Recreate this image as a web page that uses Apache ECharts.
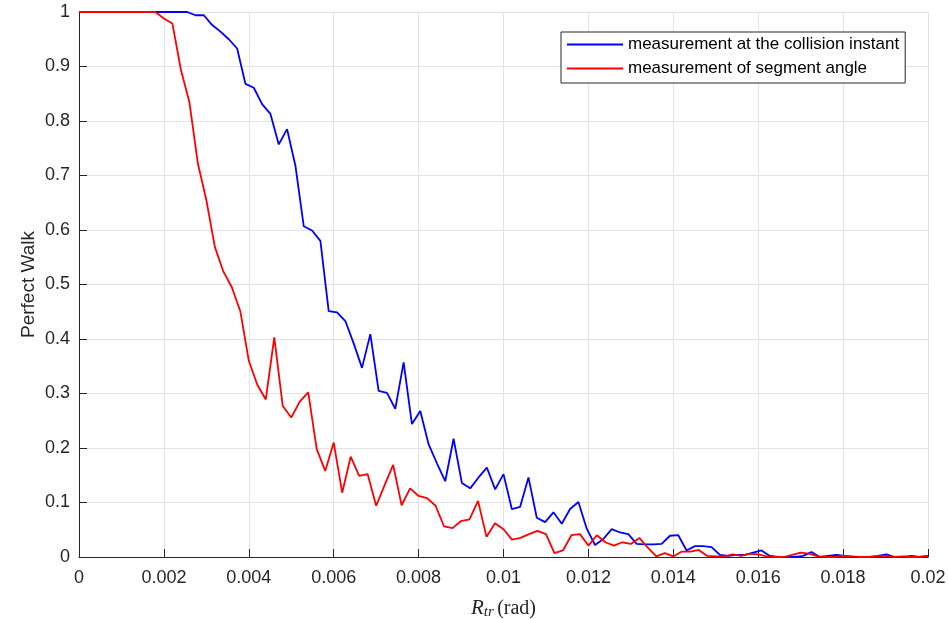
<!DOCTYPE html>
<html>
<head>
<meta charset="utf-8">
<script src="https://cdn.jsdelivr.net/npm/echarts@6/dist/echarts.min.js"></script>
<style>
html,body{margin:0;padding:0;background:#fff;}
#chart{width:948px;height:619px;}
</style>
</head>
<body>
<div id="chart"></div>
<script>
const seriesNames = ['measurement at the collision instant', 'measurement of segment angle'];
const xTickLabels = ['0','0.002','0.004','0.006','0.008','0.01','0.012','0.014','0.016','0.018','0.02'];
const yTickLabels = ['0','0.1','0.2','0.3','0.4','0.5','0.6','0.7','0.8','0.9','1'];

// blue: 103 samples over [0, 0.02]
const blueY = [1,1,1,1,1,1,1,1,1,1,1,1,1,
  1,0.994,0.994,0.976,0.964,0.950,0.933,0.868,0.861,0.831,0.813,0.757,0.785,0.718,0.607,0.599,0.580,
  0.451,0.449,0.433,0.392,0.347,0.409,0.305,0.301,0.272,0.357,0.244,0.268,0.207,0.172,0.139,0.217,
  0.136,0.126,0.146,0.164,0.124,0.152,0.088,0.092,0.146,0.072,0.064,0.082,0.061,0.088,0.101,0.052,
  0.022,0.033,0.051,0.045,0.042,0.024,0.023,0.023,0.024,0.039,0.040,0.012,0.020,0.020,0.018,0.004,
  0.002,0.004,0.004,0.008,0.012,0.002,0,0,0,0.002,0.009,0,0.002,0.004,0.002,0,0,0,0.002,0.005,0,0,0.002,0,0.002];
// red: 101 samples over [0, 0.02]
const redY = [1,1,1,1,1,1,1,1,1,1,
  0.988,0.979,0.894,0.835,0.722,0.655,0.569,0.524,0.495,0.451,0.360,0.316,0.289,0.403,0.277,0.256,
  0.285,0.302,0.198,0.158,0.210,0.118,0.184,0.149,0.152,0.094,0.132,0.169,0.095,0.126,0.112,0.108,
  0.094,0.056,0.053,0.066,0.069,0.103,0.037,0.062,0.051,0.032,0.035,0.042,0.048,0.042,0.007,0.012,
  0.040,0.042,0.021,0.040,0.027,0.021,0.027,0.024,0.035,0.017,0.001,0.007,0.001,0.010,0.010,0.013,
  0.002,0.001,0.001,0.005,0.002,0.006,0.005,0.001,0,0,0.004,0.008,0.006,0.001,0,0,0.002,0.001,0,0,
  0.001,0.002,0,0.001,0,0,0.002];

const xMax = 0.02;
const blueX = blueY.map((_, k) => k * xMax / (blueY.length - 1));
const redX = redY.map((_, i) => i * xMax / (redY.length - 1));

const chart = echarts.init(document.getElementById('chart'), null, {renderer: 'canvas'});
const axisColor = '#262626';
const gridColor = '#e3e3e3';
const sans = '"Liberation Sans", Arial, Helvetica, sans-serif';
const serif = '"Liberation Serif", "DejaVu Serif", serif';

chart.setOption({
  animation: false,
  backgroundColor: '#ffffff',
  grid: {left: 79, right: 20, top: 12, bottom: 62, containLabel: false, outerBoundsMode: 'none'},
  legend: {
    orient: 'vertical',
    left: 561, top: 32,
    padding: [4, 6, 6, 6],
    itemGap: 7,
    itemWidth: 56,
    itemHeight: 2,
    icon: 'rect',
    backgroundColor: '#ffffff',
    borderColor: '#262626',
    borderWidth: 1,
    borderRadius: 0,
    textStyle: {fontFamily: sans, fontSize: 17, color: '#000', lineHeight: 17},
    data: seriesNames
  },
  xAxis: {
    type: 'value', min: 0, max: xMax, interval: 0.002,
    name: '{i|R}{s|tr} {u|(rad)}',
    nameLocation: 'middle', nameGap: 40, nameMoveOverlap: false,
    nameTextStyle: {
      rich: {
        i: {fontFamily: serif, fontStyle: 'italic', fontSize: 21, color: '#262626'},
        s: {fontFamily: serif, fontStyle: 'italic', fontSize: 15, color: '#262626', verticalAlign: 'bottom', padding: [8, 0, 0, 0]},
        u: {fontFamily: serif, fontSize: 20, color: '#262626'}
      }
    },
    axisLine: {show: true, onZero: false, lineStyle: {color: axisColor, width: 1}},
    axisTick: {show: true, inside: true, length: 8, lineStyle: {color: axisColor}},
    axisLabel: {
      fontFamily: sans, fontSize: 18, color: '#262626', margin: 12,
      formatter: v => xTickLabels[Math.round(v / 0.002)] ?? ''
    },
    splitLine: {show: true, lineStyle: {color: gridColor, width: 1}}
  },
  yAxis: {
    type: 'value', min: 0, max: 1, interval: 0.1,
    name: 'Perfect Walk',
    nameLocation: 'middle', nameGap: 41, nameRotate: 90, nameMoveOverlap: false,
    nameTextStyle: {fontFamily: sans, fontSize: 19, color: '#262626'},
    axisLine: {show: true, lineStyle: {color: axisColor, width: 1}},
    axisTick: {show: true, inside: true, length: 8, lineStyle: {color: axisColor}},
    axisLabel: {
      fontFamily: sans, fontSize: 18, color: '#262626', margin: 9,
      formatter: v => yTickLabels[Math.round(v * 10)] ?? ''
    },
    splitLine: {show: true, lineStyle: {color: gridColor, width: 1}}
  },
  series: [
    {
      name: seriesNames[0], type: 'line', showSymbol: false, symbol: 'none', clip: false,
      lineStyle: {color: '#0000ff', width: 1.8}, itemStyle: {color: '#0000ff'},
      data: blueX.map((x, k) => [x, blueY[k]])
    },
    {
      name: seriesNames[1], type: 'line', showSymbol: false, symbol: 'none', clip: false,
      lineStyle: {color: '#ff0000', width: 1.8}, itemStyle: {color: '#ff0000'},
      data: redX.map((x, i) => [x, redY[i]])
    }
  ]
});
</script>
</body>
</html>
